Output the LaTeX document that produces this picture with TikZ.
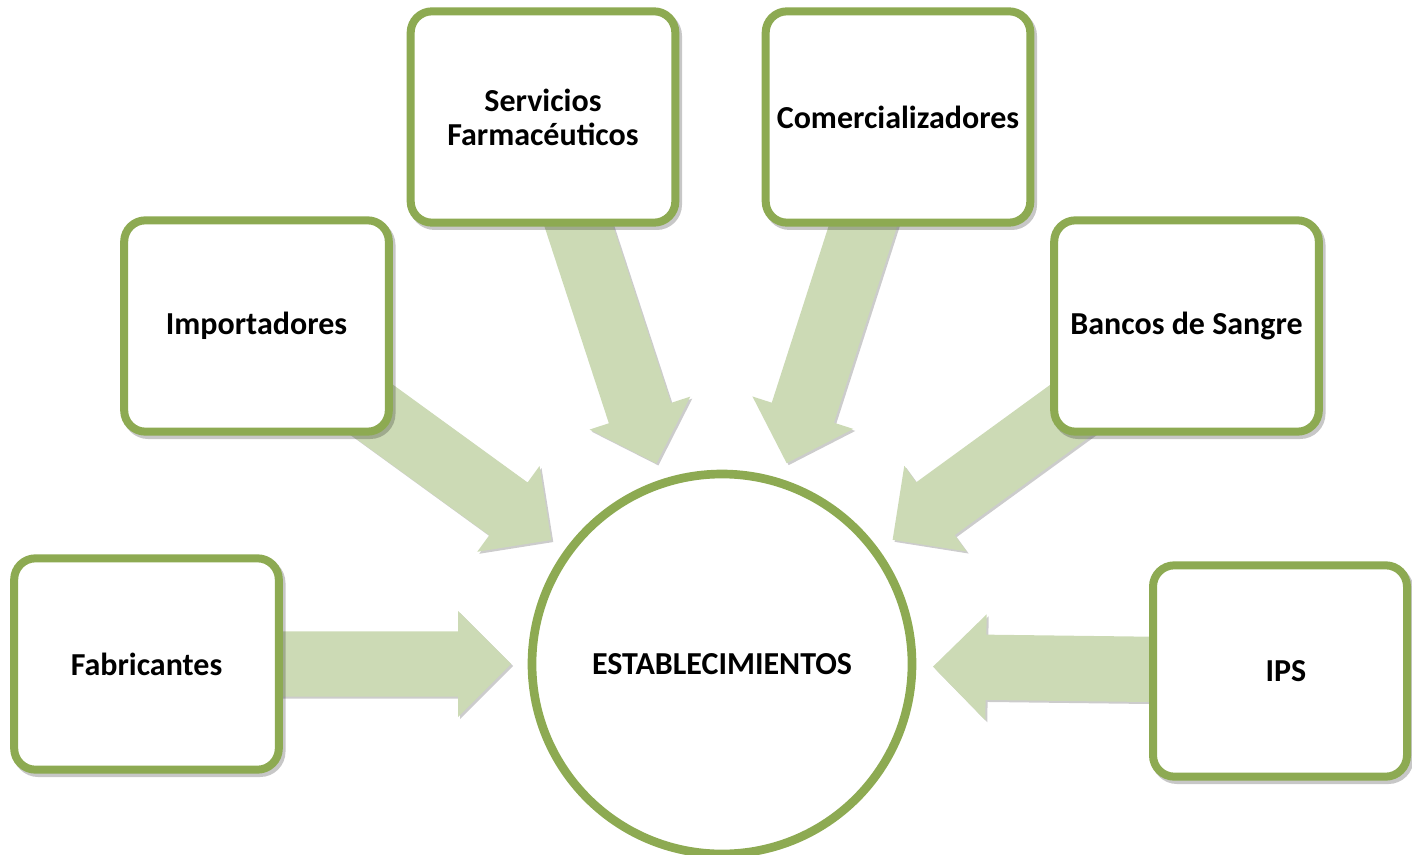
\documentclass[tikz,border=0pt]{standalone}
\usepackage{fontspec}
\setmainfont{Carlito}
\usetikzlibrary{calc}
\pgfdeclarelayer{bg}
\pgfsetlayers{bg,main}
\definecolor{boxgreen}{RGB}{141,170,82}
\definecolor{arrowgreen}{RGB}{204,218,181}
\tikzset{
  boxnode/.style={draw=boxgreen, line width=6pt, fill=white, rounded corners=16pt,
    minimum width=198.5pt, minimum height=158.5pt, inner sep=0pt, align=center,
    font=\bfseries\fontsize{24}{25.5}\selectfont,
    preaction={draw=black, opacity=0.22, line width=6pt, transform canvas={xshift=2pt,yshift=-2.5pt}}},
  hubnode/.style={circle, draw=boxgreen, line width=6.5pt, fill=white, minimum size=285pt,
    inner sep=0pt, font=\bfseries\fontsize{24}{25.5}\selectfont},
  blockarrowstyle/.style={fill=arrowgreen,
    preaction={fill=black, opacity=0.2, transform canvas={xshift=1.5pt,yshift=-1.5pt}}}
}
\newcommand{\blockarrow}[3]{%
  \coordinate (#3h) at ($(#2)!39.75pt!(#1)$);
  \path[blockarrowstyle] ($(#1)!24.5pt!90:(#2)$) -- ($(#3h)!24.5pt!90:(#2)$)
    -- ($(#3h)!39.75pt!90:(#2)$) -- (#2) -- ($(#3h)!39.75pt!-90:(#2)$)
    -- ($(#3h)!24.5pt!-90:(#2)$) -- ($(#1)!24.5pt!-90:(#2)$) -- cycle;
}
\begin{document}
\begin{tikzpicture}[x=0.75pt, y=-0.75pt]
\useasboundingbox (0,0) rectangle (1412,855);
\clip (0,0) rectangle (1412,855);
\node[hubnode] (est) at (722,664) {ESTABLECIMIENTOS};
\node[boxnode] (fab) at (146.5,664) {Fabricantes};
\node[boxnode] (imp) at (256.5,326) {Importadores};
\node[boxnode] (ser) at (543,117) {Servicios\\Farmacéuticos};
\node[boxnode] (com) at (898,117) {Comercializadores};
\node[boxnode] (ban) at (1186.5,326) {Bancos de Sangre};
\node[boxnode, minimum width=190.5pt] (ips) at (1280,671) {\hspace*{9pt}IPS};
\foreach \n in {fab,imp,ser,com,ban,ips}{
  \coordinate (t\n) at ($(est.center)!158.25pt!(\n.center)$);
}
\begin{pgfonlayer}{bg}
\foreach \n in {fab,imp,ser,com,ban,ips}{
  \blockarrow{\n.center}{t\n}{a\n}
}
\end{pgfonlayer}
\end{tikzpicture}
\end{document}
